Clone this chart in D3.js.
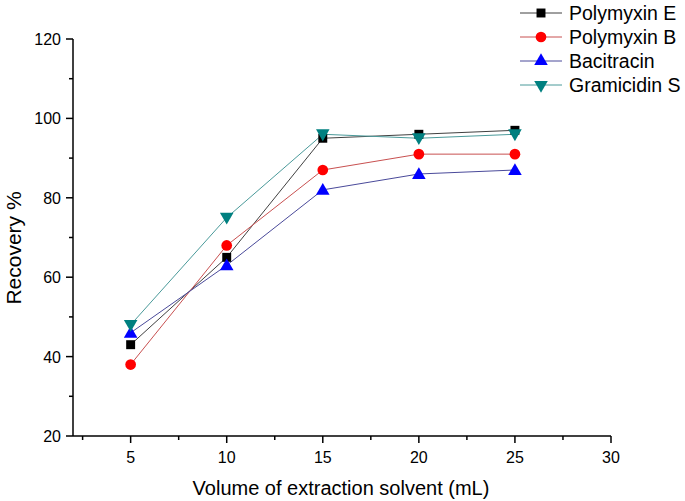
<!DOCTYPE html>
<html><head><meta charset="utf-8">
<script src="https://cdn.jsdelivr.net/npm/d3@7"></script>
<style>body{margin:0;background:#fff}svg{display:block;font-family:"Liberation Sans",Arial,sans-serif}</style>
</head><body>
<svg id="c" width="685" height="501"></svg>
<script>
const volumes = [5, 10, 15, 20, 25];
const polymyxinE = [43, 65, 95, 96, 97];
const polymyxinB = [38, 68, 87, 91, 91];
const bacitracin = [46, 63, 82, 86, 87];
const gramicidinS = [48, 75, 96, 95, 96];
const seriesNames = ["Polymyxin E", "Polymyxin B", "Bacitracin", "Gramicidin S"];
const xTicks = [5, 10, 15, 20, 25, 30];
const yTicks = [20, 40, 60, 80, 100, 120];

const series = [
  {name: seriesNames[0], values: polymyxinE, fill: "#000000", line: "#404040", sym: d3.symbolSquare, size: 80, rot: 0},
  {name: seriesNames[1], values: polymyxinB, fill: "#ff0000", line: "#c85050", sym: d3.symbolCircle, size: 90, rot: 0},
  {name: seriesNames[2], values: bacitracin, fill: "#0000ff", line: "#4a4a9a", sym: d3.symbolTriangle, size: 80, rot: 0},
  {name: seriesNames[3], values: gramicidinS, fill: "#008080", line: "#4a9a9a", sym: d3.symbolTriangle, size: 80, rot: 180}
];

const svg = d3.select("#c");
const x = d3.scaleLinear().domain([2, 30]).range([73, 611]);
const y = d3.scaleLinear().domain([20, 120]).range([436, 39]);

// x axis
const xAxis = svg.append("g").attr("transform", "translate(0,436)");
xAxis.append("line").attr("x1", x(2)).attr("x2", x(30)).attr("stroke", "#000").attr("stroke-width", 1.5);
const xMinor = d3.range(2.5, 30, 5);
xAxis.selectAll(".mn").data(xMinor).join("line").attr("x1", d => x(d)).attr("x2", d => x(d)).attr("y1", 0).attr("y2", 4).attr("stroke", "#000").attr("stroke-width", 1.5);
xAxis.selectAll(".mj").data(xTicks).join("line").attr("x1", d => x(d)).attr("x2", d => x(d)).attr("y1", 0).attr("y2", 7).attr("stroke", "#000").attr("stroke-width", 1.5);
xAxis.selectAll("text").data(xTicks).join("text").attr("x", d => x(d)).attr("y", 27).attr("text-anchor", "middle").attr("font-size", 16).text(d => d);

// y axis
const yAxis = svg.append("g").attr("transform", "translate(73,0)");
yAxis.append("line").attr("y1", y(20)).attr("y2", y(120)).attr("stroke", "#000").attr("stroke-width", 1.5);
const yMinor = d3.range(30, 120, 20);
yAxis.selectAll(".mn").data(yMinor).join("line").attr("y1", d => y(d)).attr("y2", d => y(d)).attr("x1", 0).attr("x2", -4).attr("stroke", "#000").attr("stroke-width", 1.5);
yAxis.selectAll(".mj").data(yTicks).join("line").attr("y1", d => y(d)).attr("y2", d => y(d)).attr("x1", 0).attr("x2", -7).attr("stroke", "#000").attr("stroke-width", 1.5);
yAxis.selectAll("text").data(yTicks).join("text").attr("x", -12).attr("y", d => y(d) + 6).attr("text-anchor", "end").attr("font-size", 16).text(d => d);

// titles
svg.append("text").attr("x", 341).attr("y", 495).attr("text-anchor", "middle").attr("font-size", 20).text("Volume of extraction solvent (mL)");
svg.append("text").attr("transform", "translate(21,248) rotate(-90)").attr("text-anchor", "middle").attr("font-size", 21).text("Recovery %");

// series
const line = d3.line().x(d => x(d[0])).y(d => y(d[1]));
series.forEach(s => {
  const pts = volumes.map((v, i) => [v, s.values[i]]);
  svg.append("path").attr("d", line(pts)).attr("fill", "none").attr("stroke", s.line).attr("stroke-width", 1);
});
series.forEach(s => {
  const pts = volumes.map((v, i) => [v, s.values[i]]);
  svg.selectAll(null).data(pts).join("path")
    .attr("d", d3.symbol().type(s.sym).size(s.size))
    .attr("transform", d => `translate(${x(d[0])},${y(d[1]) + (s.sym === d3.symbolTriangle ? (s.rot ? -1 : 1) : 0)}) rotate(${s.rot})`)
    .attr("fill", s.fill);
});

// legend
const leg = svg.append("g");
series.forEach((s, i) => {
  const ly = 13 + i * 24;
  leg.append("line").attr("x1", 520).attr("x2", 562).attr("y1", ly).attr("y2", ly).attr("stroke", s.line).attr("stroke-width", 1);
  leg.append("path").attr("d", d3.symbol().type(s.sym).size(s.size)).attr("transform", `translate(541,${ly}) rotate(${s.rot})`).attr("fill", s.fill);
  leg.append("text").attr("x", 569).attr("y", ly + 7).attr("font-size", 19.5).text(s.name);
});
</script>
</body></html>
